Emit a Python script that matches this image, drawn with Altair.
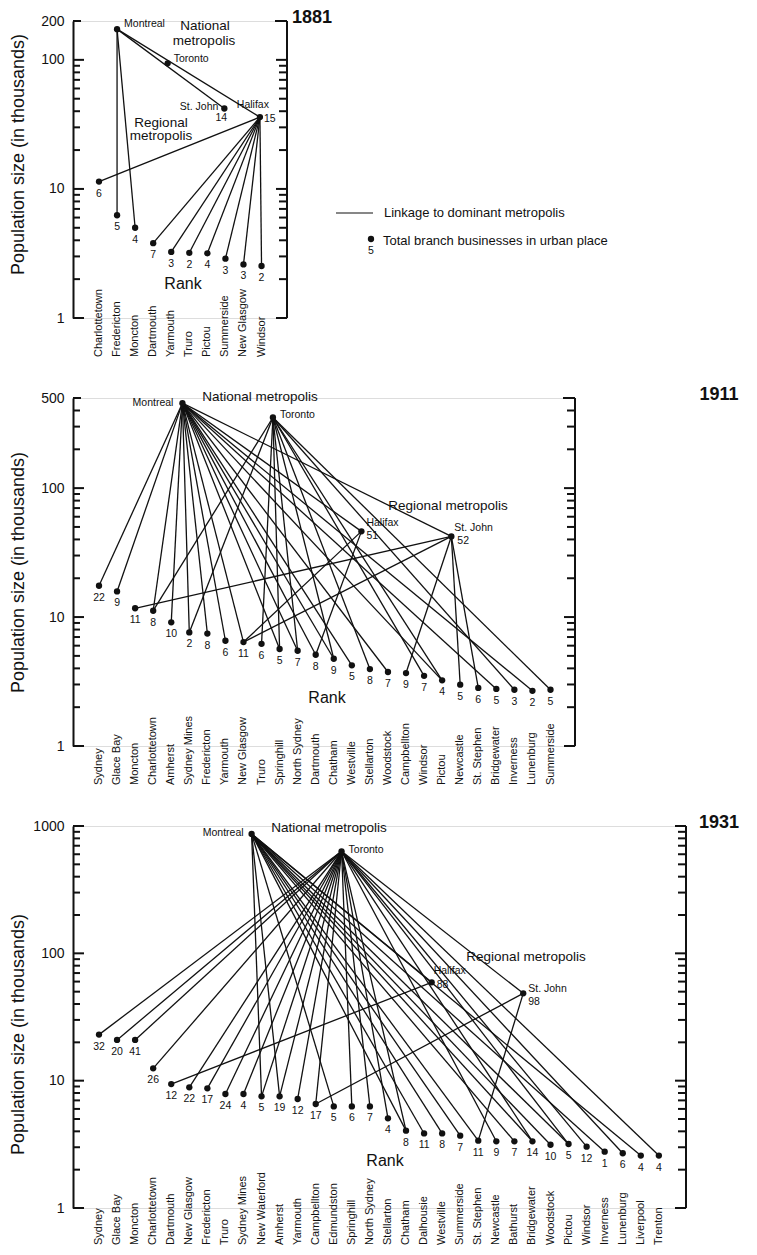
import altair as alt
import pandas as pd

FONT = "Liberation Sans"
INK = "#111111"

# ------------------------------------------------------------------ data
towns_1881 = ["Charlottetown", "Fredericton", "Moncton", "Dartmouth", "Yarmouth",
              "Truro", "Pictou", "Summerside", "New Glasgow", "Windsor"]
pop_1881 = [11.4, 6.25, 5.0, 3.8, 3.25, 3.2, 3.17, 2.88, 2.6, 2.53]
branches_1881 = [6, 5, 4, 7, 3, 2, 4, 3, 3, 2]
metros_1881 = ["Montreal", "Toronto", "St. John", "Halifax"]
metro_pop_1881 = [173, 94, 42, 36]
metro_rank_1881 = [1.0, 3.8, 6.94, 8.91]
metro_branches_1881 = [None, None, 14, 15]
links_1881 = {
    "Montreal": ["St. John", "Halifax", "Fredericton", "Moncton"],
    "Halifax": ["Charlottetown", "Dartmouth", "Yarmouth", "Truro", "Pictou",
                "Summerside", "New Glasgow", "Windsor"],
}

towns_1911 = ["Sydney", "Glace Bay", "Moncton", "Charlottetown", "Amherst", "Sydney Mines",
              "Fredericton", "Yarmouth", "New Glasgow", "Truro", "Springhill", "North Sydney",
              "Dartmouth", "Chatham", "Westville", "Stellarton", "Woodstock", "Campbellton",
              "Windsor", "Pictou", "Newcastle", "St. Stephen", "Bridgewater", "Inverness",
              "Lunenburg", "Summerside"]
pop_1911 = [17.5, 15.8, 11.7, 11.2, 9.1, 7.6, 7.45, 6.55, 6.4, 6.2, 5.65, 5.48, 5.1,
            4.75, 4.22, 3.95, 3.75, 3.68, 3.5, 3.23, 2.99, 2.82, 2.77, 2.73, 2.68, 2.73]
branches_1911 = [22, 9, 11, 8, 10, 2, 8, 6, 11, 6, 5, 7, 8, 9, 5, 8, 7, 9, 7, 4, 5, 6,
                 5, 3, 2, 5]
metros_1911 = ["Montreal", "Toronto", "Halifax", "St. John"]
metro_pop_1911 = [456, 353, 46.2, 42.2]
metro_rank_1911 = [4.62, 9.63, 14.53, 19.51]
metro_branches_1911 = [None, None, 51, 52]
links_1911 = {
    "Montreal": ["Sydney", "Glace Bay", "Charlottetown", "Amherst", "Sydney Mines",
                 "Fredericton", "Yarmouth", "New Glasgow", "Springhill", "North Sydney",
                 "Dartmouth", "Chatham", "Westville", "Woodstock", "Pictou", "Bridgewater",
                 "Lunenburg", "Halifax", "St. John"],
    "Toronto": ["Charlottetown", "Sydney Mines", "Truro", "Springhill", "North Sydney",
                "Chatham", "Stellarton", "Windsor", "Pictou", "Inverness", "Summerside"],
    "Halifax": ["New Glasgow", "Dartmouth"],
    "St. John": ["Moncton", "New Glasgow", "Campbellton", "Newcastle", "St. Stephen"],
}

towns_1931 = ["Sydney", "Glace Bay", "Moncton", "Charlottetown", "Dartmouth", "New Glasgow",
              "Fredericton", "Truro", "Sydney Mines", "New Waterford", "Amherst", "Yarmouth",
              "Campbellton", "Edmundston", "Springhill", "North Sydney", "Stellarton",
              "Chatham", "Dalhousie", "Westville", "Summerside", "St. Stephen", "Newcastle",
              "Bathurst", "Bridgewater", "Woodstock", "Pictou", "Windsor", "Inverness",
              "Lunenburg", "Liverpool", "Trenton"]
pop_1931 = [23.0, 20.9, 20.9, 12.5, 9.4, 8.86, 8.7, 7.86, 7.86, 7.53, 7.53, 7.18, 6.56,
            6.28, 6.28, 6.28, 5.06, 4.05, 3.85, 3.85, 3.7, 3.38, 3.34, 3.34, 3.34, 3.14,
            3.18, 3.03, 2.77, 2.69, 2.58, 2.58]
branches_1931 = [32, 20, 41, 26, 12, 22, 17, 24, 4, 5, 19, 12, 17, 5, 6, 7, 4, 8, 11, 8,
                 7, 11, 9, 7, 14, 10, 5, 12, 1, 6, 4, 4]
metros_1931 = ["Montreal", "Toronto", "Halifax", "St. John"]
metro_pop_1931 = [867, 633, 59.2, 48.5]
metro_rank_1931 = [8.45, 13.43, 18.42, 23.49]
metro_branches_1931 = [None, None, 88, 98]
links_1931 = {
    "Montreal": ["New Waterford", "Amherst", "Edmundston", "Chatham", "Dalhousie",
                 "Westville", "Summerside", "St. Stephen", "Bathurst", "Bridgewater",
                 "Woodstock", "Pictou", "Inverness", "Liverpool", "Halifax"],
    "Toronto": ["Sydney", "Glace Bay", "Moncton", "Charlottetown", "New Glasgow",
                "Fredericton", "Truro", "Sydney Mines", "New Waterford", "Amherst",
                "Yarmouth", "Campbellton", "Springhill", "North Sydney", "Stellarton",
                "Chatham", "Newcastle", "Bridgewater", "Pictou", "Windsor", "Lunenburg",
                "Trenton", "St. John"],
    "Halifax": ["Dartmouth"],
    "St. John": ["Campbellton", "St. Stephen"],
}

# ------------------------------------------------------------------ helpers
STEP_PX = 18.06
FIRST_PX = 26


def txt(text, x, y, size=13.5, align="center", weight="normal", baseline="middle"):
    return alt.Chart(pd.DataFrame({"t": [text]})).mark_text(
        font=FONT, fontSize=size, align=align, baseline=baseline, fontWeight=weight,
        color=INK).encode(x=alt.value(x), y=alt.value(y), text="t:N")


def make_panel(year, towns, pops, branches, metros, mpops, mranks, mbranches, links,
               ymax, W, H, label_off, rank_xy, notes, metro_styles, year_xy,
               title_y=None, legend=False):
    xmin = -FIRST_PX / STEP_PX
    xmax = (W - FIRST_PX) / STEP_PX
    xs = alt.Scale(domain=[xmin, xmax], nice=False, zero=False)
    ys = alt.Scale(type="log", domain=[1, ymax], nice=False)
    majors = [v for v in (1, 10, 100, 1000) if v <= ymax]
    minors = [m * d for d in (1, 10, 100) for m in range(2, 10) if m * d < ymax]
    tops = [] if ymax in majors else [ymax]
    axis_kw = dict(values=majors + tops, format="d", ticks=False, grid=False,
                   domainColor=INK, domainWidth=2, labelFont=FONT, labelFontSize=14,
                   labelColor=INK, labelPadding=9,
                   title="Population size (in thousands)", titleFont=FONT,
                   titleFontSize=18, titleFontWeight="normal", titleColor=INK,
                   titlePadding=8, minExtent=38, maxExtent=38)
    if title_y is not None:
        axis_kw["titleY"] = title_y
    X = alt.X("x:Q", scale=xs, axis=None)
    Y = alt.Y("y:Q", scale=ys, axis=alt.Axis(**axis_kw))

    pos = {t: (i, p) for i, (t, p) in enumerate(zip(towns, pops))}
    for m, r, p in zip(metros, mranks, mpops):
        pos[m] = (r, p)
    rows = []
    for src, targets in links.items():
        for t in targets:
            rows.append({"x": pos[src][0], "y": pos[src][1],
                         "x2": pos[t][0], "y2": pos[t][1]})
    seg_df = pd.DataFrame(rows)
    town_df = pd.DataFrame({"x": list(range(len(towns))), "y": pops, "name": towns,
                            "b": [str(b) for b in branches]})
    metro_df = pd.DataFrame({"x": mranks, "y": mpops, "name": metros,
                             "b": ["" if b is None else str(b) for b in mbranches]})

    layers = []
    # right-hand axis line
    layers.append(alt.Chart(pd.DataFrame({"a": [0]})).mark_rule(
        color=INK, strokeWidth=2).encode(x=alt.value(W), y=alt.value(0),
                                         y2=alt.value(H)))
    # inward axis ticks (left and right)
    for vals, ln_l, ln_r in ((majors, 11, 11), (minors, 7, 8), (tops, 8, 12)):
        if not vals:
            continue
        tdf = pd.DataFrame({"y": [float(v) for v in vals]})
        layers.append(alt.Chart(tdf).mark_tick(
            color=INK, thickness=2, size=ln_l, orient="horizontal", opacity=1).encode(
            y=Y, x=alt.value(ln_l / 2.0)))
        layers.append(alt.Chart(tdf).mark_tick(
            color=INK, thickness=2, size=ln_r, orient="horizontal", opacity=1).encode(
            y=Y, x=alt.value(W - ln_r / 2.0)))
    # linkages
    layers.append(alt.Chart(seg_df).mark_rule(color=INK, strokeWidth=1.3).encode(
        x=X, y=Y, x2="x2:Q", y2="y2:Q"))
    # points
    pts = pd.concat([town_df, metro_df], ignore_index=True)
    layers.append(alt.Chart(pts).mark_circle(size=40, color=INK, opacity=1).encode(
        x=X, y=Y))
    # branch counts
    layers.append(alt.Chart(town_df).mark_text(
        font=FONT, fontSize=10.5, dy=12, color=INK).encode(x=X, y=Y, text="b:N"))
    # town names
    layers.append(alt.Chart(town_df).mark_text(
        font=FONT, fontSize=11, angle=270, align="left", baseline="middle",
        color=INK).encode(x=X, y=alt.value(H + label_off), text="name:N"))
    # metro labels
    for name, (nsty, csty) in metro_styles.items():
        one = metro_df[metro_df["name"] == name]
        dx, dy, al = nsty
        layers.append(alt.Chart(one).mark_text(
            font=FONT, fontSize=10.5, dx=dx, dy=dy, align=al, color=INK).encode(
            x=X, y=Y, text="name:N"))
        if csty is not None:
            dx, dy, al = csty
            layers.append(alt.Chart(one).mark_text(
                font=FONT, fontSize=10.5, dx=dx, dy=dy, align=al, color=INK).encode(
                x=X, y=Y, text="b:N"))
    # Rank, notes, year
    layers.append(txt("Rank", rank_xy[0], rank_xy[1], size=16))
    for t, nx, ny in notes:
        layers.append(txt(t, nx, ny, size=13.5))
    layers.append(txt(year, year_xy[0], year_xy[1], size=18, weight="bold"))

    if legend:
        layers.append(alt.Chart(pd.DataFrame({"a": [0]})).mark_rule(
            color=INK, strokeWidth=1.2).encode(
            x=alt.value(263), x2=alt.value(300), y=alt.value(192)))
        layers.append(txt("Linkage to dominant metropolis", 311, 192, size=13,
                          align="left"))
        layers.append(alt.Chart(pd.DataFrame({"a": [0]})).mark_circle(
            size=40, color=INK, opacity=1).encode(x=alt.value(298), y=alt.value(218)))
        layers.append(txt("5", 298, 230, size=10.5))
        layers.append(txt("Total branch businesses in urban place", 310, 220, size=13,
                          align="left"))

    return alt.layer(*layers).properties(width=W, height=H)


p1881 = make_panel(
    "1881", towns_1881, pop_1881, branches_1881, metros_1881, metro_pop_1881,
    metro_rank_1881, metro_branches_1881, links_1881,
    ymax=200, W=214, H=297, label_off=39, rank_xy=(110, 263),
    notes=[("National", 132, 5), ("metropolis", 131, 20),
           ("Regional", 88, 102), ("metropolis", 88, 115)],
    metro_styles={"Montreal": ((7, -5, "left"), None),
                  "Toronto": ((6, -4, "left"), None),
                  "St. John": ((-6, -1, "right"), (-3, 10, "center")),
                  "Halifax": ((-7, -12, "center"), (4, 2, "left"))},
    year_xy=(239, -3), title_y=133, legend=True)

p1911 = make_panel(
    "1911", towns_1911, pop_1911, branches_1911, metros_1911, metro_pop_1911,
    metro_rank_1911, metro_branches_1911, links_1911,
    ymax=500, W=502, H=348, label_off=39, rank_xy=(254, 300),
    notes=[("National metropolis", 187, -1), ("Regional metropolis", 375, 108)],
    metro_styles={"Montreal": ((-9, 0, "right"), None),
                  "Toronto": ((7, -2, "left"), None),
                  "Halifax": ((5, -8, "left"), (5, 5, "left")),
                  "St. John": ((3, -8, "left"), (6, 5, "left"))},
    year_xy=(646, -3))

p1931 = make_panel(
    "1931", towns_1931, pop_1931, branches_1931, metros_1931, metro_pop_1931,
    metro_rank_1931, metro_branches_1931, links_1931,
    ymax=1000, W=613, H=382, label_off=37, rank_xy=(312, 335),
    notes=[("National metropolis", 256, 2), ("Regional metropolis", 453, 131)],
    metro_styles={"Montreal": ((-8, -1, "right"), None),
                  "Toronto": ((7, -1, "left"), None),
                  "Halifax": ((2, -11, "left"), (5, 3, "left")),
                  "St. John": ((5, -4, "left"), (5, 9, "left"))},
    year_xy=(646, -3), title_y=208)

chart = alt.vconcat(p1881, p1911, p1931).properties(
    spacing=80, bounds="flush", padding=0
).configure_view(stroke=None).configure(font=FONT)

chart.save("out.html", embed_options={"renderer": "svg", "actions": False})
